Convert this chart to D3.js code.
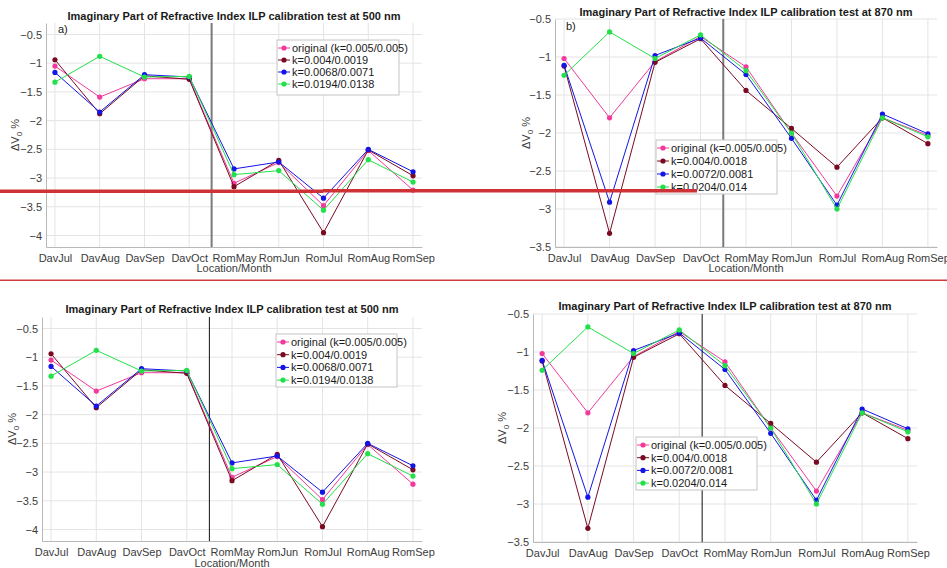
<!DOCTYPE html>
<html lang="en">
<head>
<meta charset="UTF-8">
<title>ILP calibration test</title>
<style>
    body { margin: 0; background: #fff; }
    svg text { font-family: "Liberation Sans Narrow", "Liberation Sans", Arial, sans-serif; }
</style>
</head>
<body>
<svg id="chart" width="947" height="568"></svg>
<script src="https://d3js.org/d3.v7.min.js"></script>
<script>
// categories
var months = ["DavJul", "DavAug", "DavSep", "DavOct", "RomMay", "RomJun", "RomJul", "RomAug", "RomSep"];

// y ticks
var yTicks500 = [-4, -3.5, -3, -2.5, -2, -1.5, -1, -0.5];
var yTicks870 = [-3.5, -3, -2.5, -2, -1.5, -1, -0.5];

// legend labels
var names500 = ["original (k=0.005/0.005)", "k=0.004/0.0019", "k=0.0068/0.0071", "k=0.0194/0.0138"];
var names870 = ["original (k=0.005/0.005)", "k=0.004/0.0018", "k=0.0072/0.0081", "k=0.0204/0.014"];

// 500 nm values
var original500 = [-1.05, -1.59, -1.27, -1.27, -3.09, -2.73, -3.48, -2.52, -3.21];
var kLow500     = [-0.94, -1.88, -1.22, -1.28, -3.15, -2.69, -3.95, -2.51, -2.96];
var kMid500     = [-1.16, -1.85, -1.20, -1.24, -2.84, -2.72, -3.35, -2.50, -2.89];
var kHigh500    = [-1.33, -0.88, -1.24, -1.23, -2.94, -2.87, -3.56, -2.68, -3.07];

// 870 nm values
var original870 = [-1.02, -1.80, -1.06, -0.73, -1.13, -2.00, -2.83, -1.80, -2.03];
var kLow870     = [-1.12, -3.32, -1.07, -0.76, -1.44, -1.94, -2.45, -1.80, -2.14];
var kMid870     = [-1.11, -2.91, -0.98, -0.75, -1.23, -2.07, -2.95, -1.75, -2.01];
var kHigh870    = [-1.24, -0.67, -1.02, -0.71, -1.18, -2.00, -3.00, -1.80, -2.05];

var colors = ["#f2399c", "#7a0a22", "#1414e6", "#22e04a"];

var svg = d3.select("#chart");

function drawPanel(p) {
    var g = svg.append("g");
    var x = d3.scaleLinear().domain([0.8, 9.2]).range([p.left, p.right]);
    var y = d3.scaleLinear().domain(p.yDomain).range([p.bottom, p.top]);

    // grid
    g.selectAll(".gx").data(months).enter().append("line")
        .attr("x1", function(d, i) { return x(i + 1); })
        .attr("x2", function(d, i) { return x(i + 1); })
        .attr("y1", p.top).attr("y2", p.bottom)
        .attr("stroke", "#e4e4e4").attr("stroke-width", 1);
    g.selectAll(".gy").data(p.yTicks).enter().append("line")
        .attr("x1", p.left).attr("x2", p.right)
        .attr("y1", function(d) { return y(d); })
        .attr("y2", function(d) { return y(d); })
        .attr("stroke", "#e4e4e4").attr("stroke-width", 1);

    // axes
    var ya = g.append("g").attr("transform", "translate(" + p.left + ",0)")
        .call(d3.axisLeft(y).tickValues(p.yTicks).tickSize(0).tickPadding(4).tickFormat(d3.format("")));
    var xa = g.append("g").attr("transform", "translate(0," + p.bottom + ")")
        .call(d3.axisBottom(x).tickValues(d3.range(1, 10)).tickSize(0).tickPadding(7)
            .tickFormat(function(d) { return months[d - 1]; }));
    [ya, xa].forEach(function(a) {
        a.select(".domain").attr("stroke", "#b8b8b8");
        a.selectAll("text").attr("fill", "#3c3c3c").style("font-size", "11px");
    });

    // divider between locations
    g.append("line")
        .attr("x1", x(4.5)).attr("x2", x(4.5))
        .attr("y1", p.top).attr("y2", p.bottom)
        .attr("stroke", p.dividerColor).attr("stroke-width", p.dividerWidth);

    // series
    var line = d3.line().x(function(d, i) { return x(i + 1); }).y(function(d) { return y(d); });
    p.series.forEach(function(s, k) {
        g.append("path").datum(s).attr("d", line)
            .attr("fill", "none").attr("stroke", colors[k]).attr("stroke-width", 1);
        g.selectAll(".pt" + k).data(s).enter().append("circle")
            .attr("cx", function(d, i) { return x(i + 1); })
            .attr("cy", function(d) { return y(d); })
            .attr("r", 2.6).attr("fill", colors[k]);
    });

    // title
    g.append("text").attr("x", (p.left + p.right) / 2).attr("y", p.titleY)
        .attr("text-anchor", "middle").style("font-size", "11px").style("font-weight", "bold")
        .attr("fill", "#1a1a1a").text(p.title);

    // y label
    var yl = g.append("text")
        .attr("transform", "translate(" + p.yLabelX + "," + ((p.top + p.bottom) / 2) + ") rotate(-90)")
        .attr("text-anchor", "middle").attr("fill", "#3c3c3c").style("font-size", "11px");
    yl.append("tspan").text("\u0394V");
    yl.append("tspan").attr("dy", 3).style("font-size", "8px").text("0");
    yl.append("tspan").attr("dy", -3).text(" %");

    // x label
    if (p.xLabelY) {
        g.append("text").attr("x", (p.left + p.right) / 2).attr("y", p.xLabelY)
            .attr("text-anchor", "middle").attr("fill", "#3c3c3c").style("font-size", "11px")
            .text("Location/Month");
    }

    // panel tag
    if (p.tag) {
        g.append("text").attr("x", p.tag[1]).attr("y", p.tag[2])
            .attr("fill", "#1a1a1a").style("font-size", "11px").text(p.tag[0]);
    }

    // legend
    var L = p.legend;
    g.append("rect").attr("x", L.x).attr("y", L.y).attr("width", L.w).attr("height", L.h)
        .attr("fill", "#fff").attr("stroke", "#c4c4c4").attr("stroke-width", 1);
    p.names.forEach(function(n, k) {
        var ry = L.y + 8 + k * L.step;
        g.append("line").attr("x1", L.x + 1).attr("x2", L.x + 13).attr("y1", ry).attr("y2", ry)
            .attr("stroke", colors[k]).attr("stroke-width", 1);
        g.append("circle").attr("cx", L.x + 7).attr("cy", ry).attr("r", 2.6).attr("fill", colors[k]);
        g.append("text").attr("x", L.x + 15).attr("y", ry + 4)
            .attr("fill", "#1a1a1a").style("font-size", "11px").text(n);
    });
}

var title500 = "Imaginary Part of Refractive Index ILP calibration test at 500 nm";
var title870 = "Imaginary Part of Refractive Index ILP calibration test at 870 nm";

drawPanel({ left: 46, right: 422, top: 23, bottom: 247, yDomain: [-4.2, -0.3], yTicks: yTicks500,
    series: [original500, kLow500, kMid500, kHigh500], names: names500, title: title500, titleY: 20,
    yLabelX: 19, xLabelY: 272, tag: ["a)", 58, 33], dividerColor: "#7a7a7a", dividerWidth: 2,
    legend: { x: 277, y: 40, w: 122, h: 55, step: 12 } });

drawPanel({ left: 555, right: 937, top: 19, bottom: 247, yDomain: [-3.5, -0.5], yTicks: yTicks870,
    series: [original870, kLow870, kMid870, kHigh870], names: names870, title: title870, titleY: 16,
    yLabelX: 530, xLabelY: 272, tag: ["b)", 566, 30], dividerColor: "#7a7a7a", dividerWidth: 2,
    legend: { x: 656, y: 140, w: 121, h: 54, step: 13 } });

drawPanel({ left: 42, right: 422, top: 317, bottom: 541, yDomain: [-4.2, -0.3], yTicks: yTicks500,
    series: [original500, kLow500, kMid500, kHigh500], names: names500, title: title500, titleY: 313,
    yLabelX: 16, xLabelY: 567, tag: null, dividerColor: "#111", dividerWidth: 1,
    legend: { x: 276, y: 334, w: 121, h: 53, step: 12.7 } });

drawPanel({ left: 533, right: 917, top: 314, bottom: 542, yDomain: [-3.5, -0.5], yTicks: yTicks870,
    series: [original870, kLow870, kMid870, kHigh870], names: names870, title: title870, titleY: 310,
    yLabelX: 506, xLabelY: null, tag: null, dividerColor: "#111", dividerWidth: 1,
    legend: { x: 636, y: 437, w: 121, h: 53, step: 12.7 } });

// red annotation lines
svg.append("rect").attr("x", 0).attr("y", 189.5).attr("width", 323).attr("height", 3.5).attr("fill", "#cf3236");
svg.append("rect").attr("x", 323).attr("y", 189).attr("width", 374).attr("height", 3.5).attr("fill", "#cf3236");
svg.append("rect").attr("x", 0).attr("y", 279.5).attr("width", 947).attr("height", 1.5).attr("fill", "#d23c40");
</script>
</body>
</html>
